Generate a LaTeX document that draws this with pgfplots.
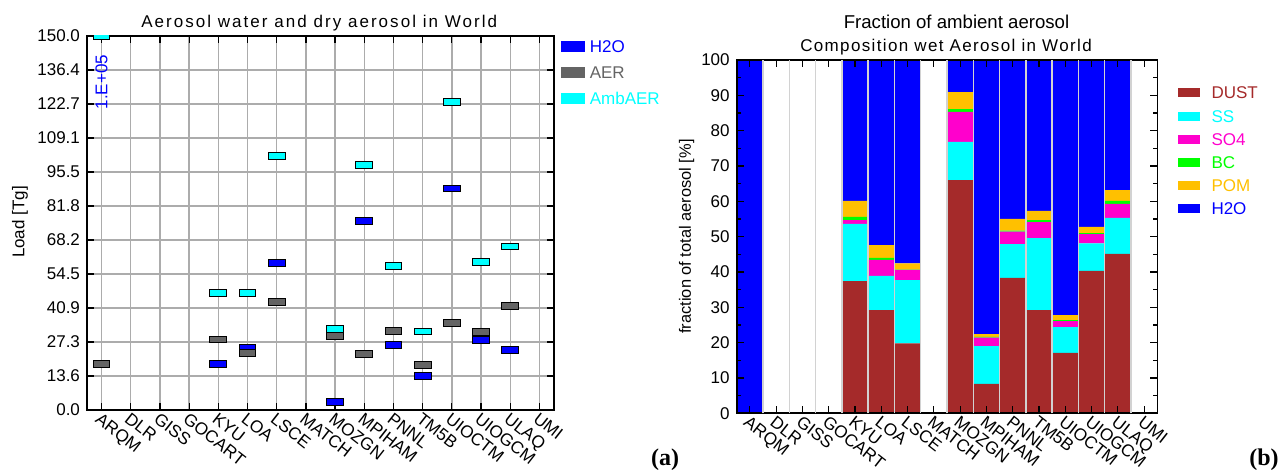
\documentclass[border=0pt]{standalone}
\usepackage{pgfplots}
\pgfplotsset{compat=1.18}
\usepackage{pgfplotstable}
\usepackage{fontspec}
\setmainfont{Liberation Sans}
\newfontfamily\serifb{Liberation Serif}
\definecolor{h2o}{RGB}{0,0,255}
\definecolor{aer}{RGB}{100,100,100}
\definecolor{amb}{RGB}{0,255,255}
\definecolor{dust}{RGB}{165,42,42}
\definecolor{ss}{RGB}{0,255,255}
\definecolor{so4}{RGB}{255,0,204}
\definecolor{bc}{RGB}{0,255,0}
\definecolor{pom}{RGB}{255,192,0}

\pgfdeclareplotmark{hbar}{%
  \pgfpathrectangle{\pgfqpoint{-4.2pt}{-1.7pt}}{\pgfqpoint{8.4pt}{3.4pt}}%
  \pgfusepathqfillstroke}

\pgfplotstableread{
x dust ss so4 bc pom h2o
0 0 0 0 0 0 100
4 37.4 16.2 1.1 0.9 4.5 39.9
5 29.2 9.7 4.5 0.6 3.6 52.4
6 19.8 17.9 2.9 0.1 1.7 57.6
8 66.0 10.8 8.5 0.8 4.8 9.1
9 8.3 10.7 2.4 0.2 0.8 77.6
10 38.3 9.6 3.5 0.3 3.3 45.0
11 29.2 20.4 4.5 0.6 2.6 42.7
12 17.1 7.3 1.7 0.3 1.4 72.2
13 40.3 7.8 2.6 0.3 1.8 47.2
14 45.1 10.2 4.0 0.8 3.1 36.8
}\comp

\pgfplotsset{modelaxis/.style={
  scale only axis, anchor=south west,
  xmin=-0.5, xmax=15.5,
  xtick={0,...,15},
  xticklabels={ARQM,DLR,GISS,GOCART,KYU,LOA,LSCE,MATCH,MOZGN,MPIHAM,PNNL,TM5B,UIOCTM,UIOGCM,ULAQ,UMI},
  x tick label style={rotate=-38, anchor=north west, font=\fontsize{8.6}{10}\selectfont, inner sep=0.5pt},
  y tick label style={font=\fontsize{8.5}{10}\selectfont},
  /pgf/number format/assume math mode=true,
  tick align=inside, xtick pos=both, ytick pos=both, ticklabel pos=left,
  axis line style={line width=0.8pt},
  every tick/.style={black, line width=0.6pt},
  major tick length=3.5pt, minor tick length=2.3pt,
  legend cell align=left,
}}

\begin{document}
\begin{tikzpicture}
\useasboundingbox (0,0) rectangle (639.5pt,235pt);
% ---------- left panel ----------
\begin{axis}[modelaxis,
  at={(43.5pt,30pt)}, width=233.5pt, height=187pt,
  ymin=0, ymax=150,
  ytick={0,13.6364,27.2727,40.9091,54.5455,68.1818,81.8182,95.4545,109.0909,122.7273,136.3636,150},
  yticklabels={0.0,13.6,27.3,40.9,54.5,68.2,81.8,95.5,109.1,122.7,136.4,150.0},
  minor y tick num=1,
  grid=major, major grid style={gray!65, line width=0.7pt},
  clip marker paths=true,
  legend style={at={(1.015,0.987)}, anchor=north west, draw=none, fill=none,
    inner sep=0pt, outer sep=0pt,
    font=\fontsize{8.5}{10}\selectfont, row sep=7pt, column sep=2.5pt,
    nodes={inner sep=0pt, text height=6pt, text depth=0pt}},
]
\addplot[only marks, mark=hbar, mark options={draw=black, fill=h2o, line width=0.5pt},
  legend image code/.code={\fill[h2o] (0pt,-2.5pt) rectangle (11.5pt,2.5pt);}]
  coordinates {(4,18.4) (5,24.9) (6,58.8) (8,3.1) (9,75.9) (10,26.1) (11,13.6) (12,88.8) (13,28.1) (14,24.1)};
\addlegendentry{\textcolor{h2o}{H2O}}
\addplot[only marks, mark=hbar, mark options={draw=black, fill=aer, line width=0.5pt},
  legend image code/.code={\fill[aer] (0pt,-2.5pt) rectangle (11.5pt,2.5pt);}]
  coordinates {(0,18.4) (4,28.3) (5,22.7) (6,43.4) (8,29.7) (9,22.5) (10,31.8) (11,18.2) (12,34.9) (13,31.4) (14,41.7)};
\addlegendentry{\textcolor{aer}{AER}}
\addplot[only marks, mark=hbar, mark options={draw=black, fill=amb, line width=0.5pt},
  legend image code/.code={\fill[amb] (0pt,-2.5pt) rectangle (11.5pt,2.5pt);}]
  coordinates {(0,150) (4,46.8) (5,46.9) (6,101.9) (8,32.4) (9,98.3) (10,57.8) (11,31.5) (12,123.5) (13,59.2) (14,65.6)};
\addlegendentry{\textcolor{amb}{AmbAER}}
\node[rotate=90, text=h2o, font=\fontsize{8.5}{10}\selectfont] at (axis cs:0,131.5) {1.E+05};
\end{axis}
% ---------- right panel ----------
\begin{axis}[modelaxis,
  at={(368.35pt,28.35pt)}, width=210.3pt, height=176.65pt,
  ymin=0, ymax=100, ytick={0,10,...,100}, minor y tick num=1,
  ybar stacked, bar width=13.14pt, axis on top,
  extra x ticks={0.5,1.5,2.5,3.5,4.5,5.5,6.5,7.5,8.5,9.5,10.5,11.5,12.5,13.5,14.5},
  extra x tick labels={},
  extra x tick style={grid=major, major grid style={gray!35, line width=0.7pt}, major tick length=0pt},
  legend style={at={(1.048,0.924)}, anchor=north west, draw=none, fill=none,
    inner sep=0pt, outer sep=0pt,
    font=\fontsize{8.5}{10}\selectfont, row sep=5.6pt, column sep=6pt,
    nodes={inner sep=0pt, text height=6pt, text depth=0pt}},
]
\addplot[fill=dust, draw=none, legend image code/.code={\fill[dust] (0pt,-2.25pt) rectangle (11pt,2.25pt);}] table[x=x,y=dust]{\comp};
\addlegendentry{\textcolor{dust}{DUST}}
\addplot[fill=ss, draw=none, legend image code/.code={\fill[ss] (0pt,-2.25pt) rectangle (11pt,2.25pt);}] table[x=x,y=ss]{\comp};
\addlegendentry{\textcolor{ss}{SS}}
\addplot[fill=so4, draw=none, legend image code/.code={\fill[so4] (0pt,-2.25pt) rectangle (11pt,2.25pt);}] table[x=x,y=so4]{\comp};
\addlegendentry{\textcolor{so4}{SO4}}
\addplot[fill=bc, draw=none, legend image code/.code={\fill[bc] (0pt,-2.25pt) rectangle (11pt,2.25pt);}] table[x=x,y=bc]{\comp};
\addlegendentry{\textcolor{bc}{BC}}
\addplot[fill=pom, draw=none, legend image code/.code={\fill[pom] (0pt,-2.25pt) rectangle (11pt,2.25pt);}] table[x=x,y=pom]{\comp};
\addlegendentry{\textcolor{pom}{POM}}
\addplot[fill=h2o, draw=none, legend image code/.code={\fill[h2o] (0pt,-2.25pt) rectangle (11pt,2.25pt);}] table[x=x,y=h2o]{\comp};
\addlegendentry{\textcolor{h2o}{H2O}}
\end{axis}
% ---------- texts ----------
\node[font=\fontsize{8.5}{10}\selectfont\addfontfeatures{LetterSpace=12}] at (159.6pt,223.6pt) {Aerosol water and dry aerosol in World};
\node[font=\fontsize{9.3}{11}\selectfont] at (478.25pt,224pt) {Fraction of ambient aerosol};
\node[font=\fontsize{8.5}{10}\selectfont\addfontfeatures{LetterSpace=8}] at (473pt,211.6pt) {Composition wet Aerosol in World};
\node[rotate=90, font=\fontsize{8.5}{10}\selectfont] at (10pt,124pt) {Load [Tg]};
\node[rotate=90, font=\fontsize{8.2}{10}\selectfont] at (343.3pt,116.75pt) {fraction of total aerosol [\%]};
\node[font=\serifb\bfseries\fontsize{12}{14}\selectfont] at (332.5pt,5pt) {(a)};
\node[anchor=east, inner sep=0pt, font=\serifb\bfseries\fontsize{12}{14}\selectfont] at (639.5pt,5pt) {(b)};
\end{tikzpicture}
\end{document}
